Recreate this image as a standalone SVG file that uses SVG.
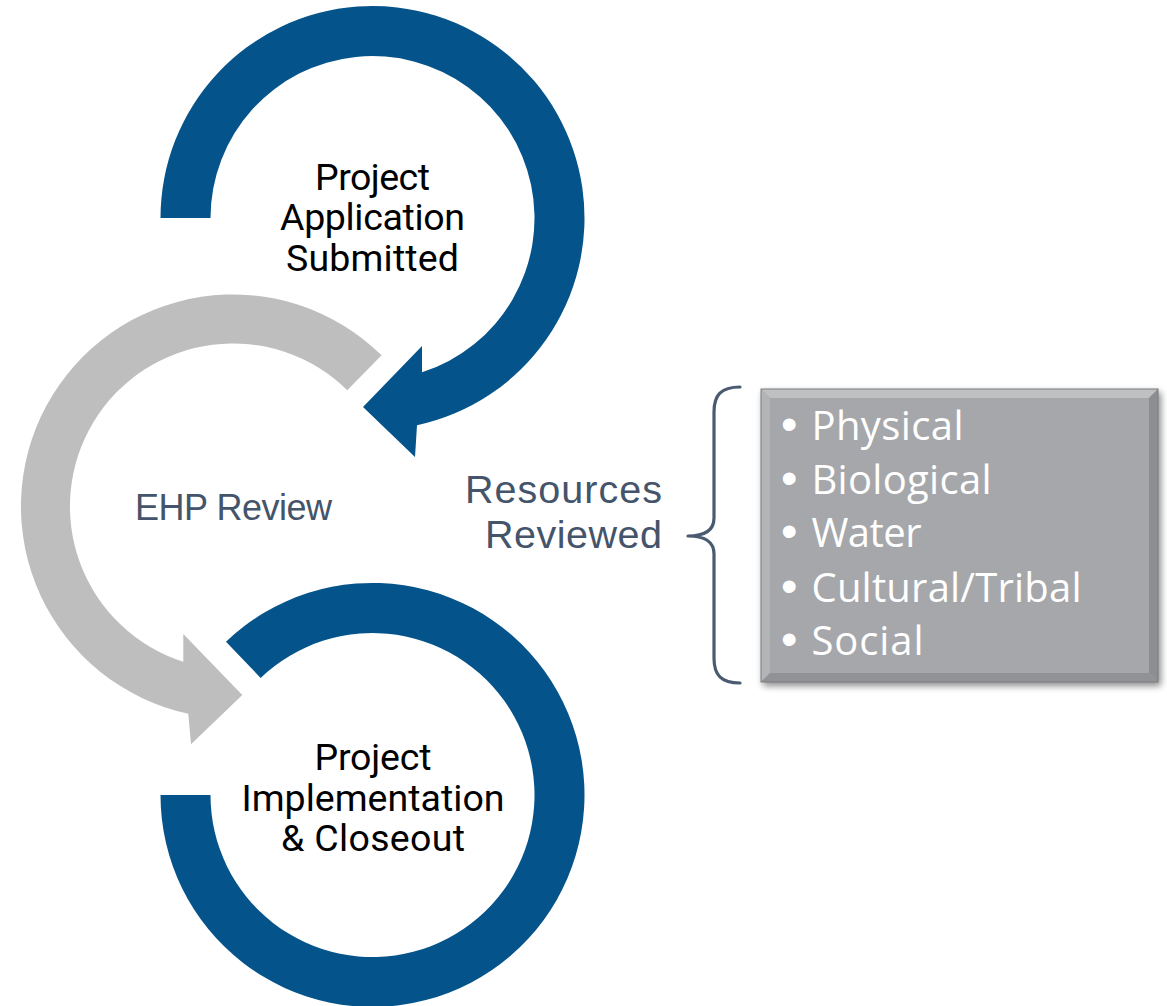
<svg xmlns="http://www.w3.org/2000/svg" width="1167" height="1006" viewBox="0 0 1167 1006">
<style>
.blue{fill:#04538A}
.gray{fill:#BEBEBE}
.dark{font-family:Roboto,"Liberation Sans",Arial,sans-serif;font-weight:400;fill:#000;text-anchor:middle;font-size:37.5px}
.slate{font-family:"Liberation Sans",Arial,sans-serif;fill:#44546A}
.ehp{font-size:36px}
.res{font-size:39.5px}
.item{font-family:"Open Sans","Liberation Sans",Arial,sans-serif;fill:#FFFFFF;font-size:40px}
.dot{font-family:"Liberation Sans",Arial,sans-serif;font-size:47px}
.brace{fill:none;stroke:#4A5A71;stroke-width:3.2;stroke-linecap:round;stroke-linejoin:round}
</style>
<defs>
<filter id="sh" x="-10%" y="-10%" width="125%" height="130%">
<feGaussianBlur stdDeviation="3.5"/>
</filter>
</defs>
<rect width="1167" height="1006" fill="#FFFFFF"/>
<g id="connectors">
<path id="arc-top" class="blue" d="M 160.5 218 A 212 212 0 1 1 417 425.3 L 415 457 L 363 407 L 422 346 L 422 372.3 A 162 162 0 1 0 210.5 218 Z"/>
<path id="arc-ehp" class="gray" d="M 381.6 355.3 A 212 212 0 1 0 188.3 713.7 L 191 744.3 L 242.3 695 L 183.3 634 L 183.3 661.7 A 163 163 0 1 1 347.2 390.2 Z"/>
<path id="arc-bottom" class="blue" d="M 226 641.7 A 212 212 0 1 1 160.5 795 L 210.5 795 A 162 162 0 1 0 260.6 677.9 Z"/>
<path id="brace" class="brace" d="M 740 387 C 721 387 714 395 714 412 L 714 518 C 714 530 706 536 688 536 C 706 536 714 542 714 554 L 714 658 C 714 675 721 683 740 683"/>
</g>
<g id="node-application">
<text class="dark" x="372.5" y="190" textLength="115">Project</text>
<text class="dark" x="372.5" y="230" textLength="185">Application</text>
<text class="dark" x="372.5" y="270.5" textLength="173">Submitted</text>
</g>
<g id="node-ehp">
<text class="slate ehp" x="135" y="520" textLength="197">EHP Review</text>
</g>
<g id="node-implementation">
<text class="dark" x="373" y="770" textLength="117">Project</text>
<text class="dark" x="373" y="810.5" textLength="263">Implementation</text>
<text class="dark" x="373" y="851" textLength="184">&amp; Closeout</text>
</g>
<g id="node-resources">
<text class="slate res" x="465" y="502.5" textLength="197">Resources</text>
<text class="slate res" x="485" y="548" textLength="177">Reviewed</text>
</g>
<g id="node-list">
<rect x="763" y="392" width="398" height="294" fill="#000" opacity="0.45" filter="url(#sh)"/>
<rect x="761" y="389" width="397" height="293" fill="#A5A7AA"/>
<polygon points="761,389 1158,389 1149,398 770,398" fill="#BEC0C2"/>
<polygon points="761,389 770,398 770,673 761,682" fill="#B2B4B6"/>
<polygon points="1158,389 1158,682 1149,673 1149,398" fill="#8C8E91"/>
<polygon points="761,682 770,673 1149,673 1158,682" fill="#909295"/>
<rect x="761" y="389" width="397" height="293" fill="none" stroke="#7A7C7F" stroke-width="1"/>
<text class="item" x="781" y="440"><tspan class="dot">•</tspan><tspan x="811.5" textLength="152">Physical</tspan></text>
<text class="item" x="781" y="493.5"><tspan class="dot">•</tspan><tspan x="811.5" textLength="180">Biological</tspan></text>
<text class="item" x="781" y="547"><tspan class="dot">•</tspan><tspan x="811.5" textLength="110">Water</tspan></text>
<text class="item" x="781" y="601.5"><tspan class="dot">•</tspan><tspan x="811.5" textLength="270">Cultural/Tribal</tspan></text>
<text class="item" x="781" y="655"><tspan class="dot">•</tspan><tspan x="811.5" textLength="112">Social</tspan></text>
</g>
</svg>
